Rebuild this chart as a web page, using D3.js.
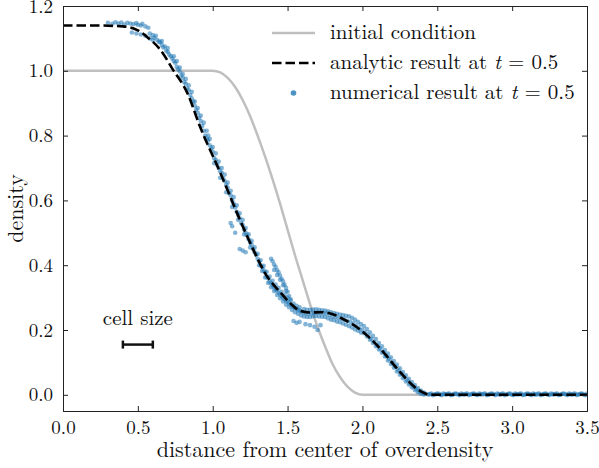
<!DOCTYPE html>
<html>
<head>
<meta charset="utf-8">
<script src="https://cdn.jsdelivr.net/npm/d3@7"></script>
<style>
  body { margin: 0; background: #fff; }
</style>
</head>
<body>
<svg id="chart" width="599" height="468"></svg>
<script>
// initial condition (gray)
const initX = [0, 1.0, 1.05, 1.1, 1.15, 1.2, 1.25, 1.3, 1.35, 1.4, 1.45, 1.5, 1.55, 1.6, 1.65, 1.7, 1.75, 1.8, 1.85, 1.9, 1.95, 2.0, 3.5];
const initY = [1, 1, 0.995, 0.978, 0.95, 0.91, 0.86, 0.8, 0.735, 0.665, 0.59, 0.51, 0.43, 0.355, 0.28, 0.21, 0.15, 0.095, 0.055, 0.025, 0.007, 0, 0];

// analytic result at t=0.5 (dashed)
const anaX = [0, 0.2, 0.4, 0.5, 0.56, 0.65, 0.735, 0.83, 0.915, 1.05, 1.18, 1.27, 1.35, 1.45, 1.52, 1.58, 1.65, 1.72, 1.78, 1.87, 1.98, 2.12, 2.25, 2.365, 2.42, 2.46, 2.6, 3.5];
const anaY = [1.14, 1.14, 1.137, 1.125, 1.105, 1.065, 1.003, 0.932, 0.828, 0.686, 0.542, 0.449, 0.375, 0.317, 0.282, 0.26, 0.254, 0.255, 0.252, 0.234, 0.203, 0.142, 0.071, 0.018, 0.004, 0, 0, 0];

// numerical result at t=0.5 (scatter)
const numPts = [
  [0.30,1.148],[0.33,1.145],[0.35,1.150],[0.37,1.146],[0.39,1.149],[0.41,1.143],[0.43,1.148],[0.45,1.146],[0.47,1.144],[0.49,1.147],
  [0.50,1.142],[0.52,1.140],[0.53,1.145],[0.55,1.137],[0.57,1.133],
  [0.46,1.118],[0.49,1.115],[0.52,1.112],[0.55,1.108],[0.58,1.100],[0.60,1.095],
  [0.58,1.115],[0.60,1.110],[0.61,1.102],[0.62,1.108],[0.63,1.095],[0.64,1.090],[0.65,1.088],[0.66,1.080],[0.67,1.072],[0.68,1.075],
  [0.69,1.062],[0.70,1.058],[0.71,1.050],[0.72,1.045],[0.73,1.038],[0.74,1.030],[0.75,1.025],[0.76,1.012],[0.77,1.005],[0.78,0.998],
  [0.79,0.985],[0.80,0.978],[0.81,0.965],[0.82,0.960],[0.83,0.945],[0.84,0.940],[0.85,0.925],[0.86,0.915],[0.87,0.905],[0.88,0.892],
  [0.89,0.880],[0.90,0.870],[0.91,0.855],[0.92,0.845],[0.93,0.830],[0.94,0.815],
  [0.76,1.030],[0.78,1.010],[0.80,0.990],[0.82,0.975],[0.84,0.955],[0.86,0.935],[0.88,0.905],[0.90,0.885],[0.92,0.862],[0.94,0.840],
  [0.96,0.815],[0.97,0.800],[0.70,1.070],[0.66,1.092],[0.74,1.045],
  [0.95,0.800],[0.96,0.790],[0.97,0.785],[0.98,0.770],[0.99,0.760],[1.00,0.750],[1.01,0.730],[1.02,0.725],[1.03,0.710],[1.04,0.700],
  [1.05,0.690],[1.06,0.685],[1.07,0.668],[1.08,0.660],[1.09,0.648],[1.10,0.640],[1.11,0.622],[1.12,0.615],[1.13,0.600],[1.14,0.590],
  [1.15,0.578],[1.16,0.565],[1.17,0.555],[1.18,0.545],[1.19,0.530],[1.20,0.525],[1.21,0.510],[1.22,0.500],[1.23,0.492],[1.24,0.480],
  [1.25,0.470],[1.26,0.462],[1.27,0.450],[1.28,0.440],[1.29,0.432],
  [0.98,0.790],[1.00,0.765],[1.02,0.745],[1.04,0.720],[1.06,0.700],[1.08,0.680],[1.10,0.655],[1.12,0.630],[1.14,0.610],[1.16,0.585],
  [1.18,0.560],[1.20,0.540],[1.22,0.515],[1.24,0.495],[1.26,0.475],[1.28,0.455],
  [1.01,0.715],[1.05,0.670],[1.09,0.625],[1.13,0.580],[1.17,0.540],[1.21,0.495],[1.25,0.455],
  [1.12,0.530],[1.13,0.520],[1.15,0.500],[1.18,0.450],[1.20,0.445],[1.22,0.440],
  [1.30,0.420],[1.31,0.412],[1.32,0.400],[1.33,0.395],[1.34,0.385],[1.35,0.378],[1.36,0.365],[1.37,0.360],[1.38,0.350],[1.39,0.345],
  [1.40,0.338],[1.41,0.332],[1.42,0.325],[1.43,0.322],[1.44,0.315],[1.45,0.310],[1.46,0.305],[1.47,0.300],[1.48,0.295],[1.49,0.290],
  [1.50,0.288],[1.51,0.282],[1.52,0.278],[1.53,0.275],[1.54,0.270],[1.55,0.268],[1.56,0.265],[1.57,0.262],[1.58,0.260],[1.59,0.258],
  [1.30,0.435],[1.32,0.415],[1.34,0.398],[1.36,0.380],[1.38,0.365],[1.40,0.352],[1.42,0.340],[1.44,0.330],[1.46,0.318],[1.48,0.308],
  [1.50,0.300],[1.52,0.292],[1.54,0.282],[1.56,0.275],[1.58,0.270],
  [1.31,0.400],[1.33,0.382],[1.35,0.362],[1.37,0.345],[1.39,0.332],[1.41,0.320],[1.43,0.308],[1.45,0.298],[1.47,0.288],[1.49,0.278],
  [1.51,0.270],[1.53,0.262],[1.55,0.255],[1.57,0.250],[1.59,0.245],
  [1.39,0.420],[1.40,0.412],[1.41,0.402],[1.42,0.395],[1.43,0.385],[1.44,0.378],[1.45,0.368],[1.46,0.358],[1.47,0.350],[1.48,0.340],
  [1.49,0.330],[1.50,0.318],[1.51,0.305],[1.52,0.295],[1.41,0.385],[1.43,0.370],[1.45,0.355],[1.47,0.338],[1.49,0.320],
  [1.60,0.255],[1.62,0.252],[1.64,0.250],[1.66,0.252],[1.68,0.253],[1.70,0.254],[1.72,0.253],[1.74,0.252],[1.76,0.250],[1.78,0.246],
  [1.80,0.242],[1.82,0.240],[1.84,0.237],[1.86,0.235],[1.88,0.232],[1.90,0.228],[1.92,0.225],[1.94,0.220],[1.96,0.212],[1.98,0.205],
  [1.61,0.265],[1.63,0.262],[1.65,0.262],[1.67,0.263],[1.69,0.264],[1.71,0.262],[1.73,0.261],[1.75,0.260],[1.77,0.258],[1.79,0.255],
  [1.81,0.252],[1.83,0.250],[1.85,0.248],[1.87,0.246],[1.89,0.244],[1.91,0.242],[1.93,0.238],[1.95,0.232],[1.97,0.225],[1.99,0.218],
  [1.61,0.242],[1.63,0.240],[1.65,0.240],[1.67,0.242],[1.69,0.243],[1.71,0.242],[1.73,0.241],[1.75,0.240],[1.77,0.236],[1.79,0.232],
  [1.81,0.230],[1.83,0.226],[1.85,0.224],[1.87,0.220],[1.89,0.216],[1.91,0.212],[1.93,0.208],[1.95,0.202],[1.97,0.198],[1.99,0.192],
  [1.54,0.228],[1.56,0.222],[1.58,0.225],[1.62,0.218],[1.65,0.215],[1.68,0.210],[1.70,0.200],[1.72,0.215],
  [2.00,0.200],[2.02,0.192],[2.04,0.183],[2.06,0.172],[2.08,0.163],[2.10,0.152],[2.12,0.142],[2.14,0.132],[2.16,0.120],[2.18,0.110],
  [2.20,0.098],[2.22,0.087],[2.24,0.076],[2.26,0.065],[2.28,0.055],[2.30,0.045],[2.32,0.035],[2.34,0.026],[2.36,0.018],[2.38,0.011],
  [2.40,0.006],[2.42,0.003],[2.44,0.001],
  [2.01,0.212],[2.03,0.203],[2.05,0.193],[2.07,0.182],[2.09,0.172],[2.11,0.160],[2.13,0.150],[2.15,0.138],[2.17,0.127],[2.19,0.116],
  [2.21,0.104],[2.23,0.093],[2.25,0.082],[2.27,0.070],[2.29,0.060],[2.31,0.049],[2.33,0.039],[2.35,0.030],[2.37,0.021],[2.39,0.013],
  [2.41,0.007],
  [2.01,0.190],[2.03,0.180],[2.05,0.170],[2.07,0.160],[2.09,0.150],[2.11,0.140],[2.13,0.130],[2.15,0.118],[2.17,0.106],[2.19,0.095],
  [2.21,0.084],[2.23,0.072],[2.25,0.062],[2.27,0.051],[2.29,0.041],[2.31,0.032],[2.33,0.023],[2.35,0.015],[2.37,0.008],[2.39,0.003],
  [2.41,0.001],
  [2.46,0.004],[2.48,0.001],[2.50,0.004],[2.52,0.000],[2.54,0.004],[2.56,0.001],[2.58,0.004],[2.60,0.000],[2.62,0.004],[2.64,0.001],
  [2.66,0.004],[2.68,0.000],[2.70,0.004],[2.72,0.001],[2.74,0.004],[2.76,0.000],[2.78,0.004],[2.80,0.001],[2.82,0.004],[2.84,0.000],
  [2.86,0.004],[2.88,0.001],[2.90,0.004],[2.92,0.000],[2.94,0.004],[2.96,0.001],[2.98,0.004],[3.00,0.000],[3.02,0.004],[3.04,0.001],
  [3.06,0.004],[3.08,0.000],[3.10,0.004],[3.12,0.001],[3.14,0.004],[3.16,0.000],[3.18,0.004],[3.20,0.001],[3.22,0.004],[3.24,0.000],
  [3.26,0.004],[3.28,0.001],[3.30,0.004],[3.32,0.000],[3.34,0.004],[3.36,0.001],[3.38,0.004],[3.40,0.000],[3.42,0.004],[3.44,0.001],
  [3.46,0.004],[3.48,0.000],[3.50,0.004],
  [2.45,0.002],[2.47,-0.001],[2.49,0.002],[2.51,0.003],[2.53,-0.001],[2.55,0.002],[2.57,0.003],[2.59,-0.001],[2.61,0.002],[2.63,0.003],
  [2.65,-0.001],[2.67,0.002],[2.69,0.003],[2.71,-0.001],[2.73,0.002],[2.75,0.003],[2.77,-0.001],[2.79,0.002],[2.81,0.003],[2.83,-0.001],
  [2.85,0.002],[2.87,0.003],[2.89,-0.001],[2.91,0.002],[2.93,0.003],[2.95,-0.001],[2.97,0.002],[2.99,0.003],[3.01,-0.001],[3.03,0.002],
  [3.05,0.003],[3.07,-0.001],[3.09,0.002],[3.11,0.003],[3.13,-0.001],[3.15,0.002],[3.17,0.003],[3.19,-0.001],[3.21,0.002],[3.23,0.003],
  [3.25,-0.001],[3.27,0.002],[3.29,0.003],[3.31,-0.001],[3.33,0.002],[3.35,0.003],[3.37,-0.001],[3.39,0.002],[3.41,0.003],[3.43,-0.001],
  [3.45,0.002],[3.47,0.003],[3.49,-0.001]
];

// "cell size" marker
const cellX = [0.4, 0.6];
const cellY = 0.155;

const xTicks = [0, 0.5, 1.0, 1.5, 2.0, 2.5, 3.0, 3.5];
const yTicks = [0, 0.2, 0.4, 0.6, 0.8, 1.0, 1.2];

const FONT = '"Latin Modern Roman"';

const margin = {top: 6, right: 12, bottom: 57, left: 63};
const W = 599, H = 468;
const w = W - margin.left - margin.right;
const h = H - margin.top - margin.bottom;

const svg = d3.select('#chart');
const g = svg.append('g').attr('transform', `translate(${margin.left},${margin.top})`);

const x = d3.scaleLinear().domain([0, 3.5]).range([0, w]);
const y = d3.scaleLinear().domain([-0.05, 1.2]).range([h, 0]);

g.append('clipPath').attr('id', 'clip')
  .append('rect').attr('width', w).attr('height', h);

const plot = g.append('g').attr('clip-path', 'url(#clip)');

const line = d3.line().x(d => x(d[0])).y(d => y(d[1])).curve(d3.curveMonotoneX);

plot.append('path')
  .datum(initX.map((v, i) => [v, initY[i]]))
  .attr('d', line)
  .attr('fill', 'none')
  .attr('stroke', '#bfbfbf')
  .attr('stroke-width', 2.5);

plot.append('g').selectAll('circle')
  .data(numPts)
  .enter().append('circle')
  .attr('cx', d => x(d[0]))
  .attr('cy', d => y(d[1]))
  .attr('r', 2.3)
  .attr('fill', '#1f77b4')
  .attr('fill-opacity', 0.55);

plot.append('path')
  .datum(anaX.map((v, i) => [v, anaY[i]]))
  .attr('d', line)
  .attr('fill', 'none')
  .attr('stroke', '#000')
  .attr('stroke-width', 2.6)
  .attr('stroke-dasharray', '9.5,4');

// axes, ticks pointing inward on all four sides
const tickLen = 5;
const xb = d3.axisBottom(x).tickValues(xTicks).tickSize(-tickLen).tickPadding(10).tickFormat(d3.format('.1f'));
const xt = d3.axisTop(x).tickValues(xTicks).tickSize(-tickLen).tickFormat('');
const yl = d3.axisLeft(y).tickValues(yTicks).tickSize(-tickLen).tickPadding(10).tickFormat(d3.format('.1f'));
const yr = d3.axisRight(y).tickValues(yTicks).tickSize(-tickLen).tickFormat('');

function styleAxis(sel) {
  sel.attr('font-size', 19);
  sel.select('.domain').attr('stroke', '#222').attr('stroke-width', 1);
  sel.selectAll('.tick line').attr('stroke', '#222').attr('stroke-width', 1);
  sel.selectAll('.tick text').style('font-family', FONT).attr('fill', '#111');
}

g.append('g').attr('transform', `translate(0,${h})`).call(xb).call(styleAxis);
g.append('g').call(xt).call(styleAxis);
g.append('g').call(yl).call(styleAxis);
g.append('g').attr('transform', `translate(${w},0)`).call(yr).call(styleAxis);

function txt(sel, size) {
  return sel.style('font-family', FONT).attr('font-size', size).attr('fill', '#111');
}

// axis labels
svg.append('text')
  .attr('x', margin.left + w / 2).attr('y', 457)
  .attr('text-anchor', 'middle')
  .call(txt, 22)
  .text('distance from center of overdensity');

svg.append('text')
  .attr('transform', `translate(23,${margin.top + h / 2}) rotate(-90)`)
  .attr('text-anchor', 'middle')
  .call(txt, 22)
  .text('density');

// cell size marker
const cell = g.append('g');
cell.append('line')
  .attr('x1', x(cellX[0])).attr('x2', x(cellX[1]))
  .attr('y1', y(cellY)).attr('y2', y(cellY))
  .attr('stroke', '#111').attr('stroke-width', 2.5);
cellX.forEach(v => {
  cell.append('line')
    .attr('x1', x(v)).attr('x2', x(v))
    .attr('y1', y(cellY) - 4).attr('y2', y(cellY) + 4)
    .attr('stroke', '#111').attr('stroke-width', 2.5);
});
cell.append('text')
  .attr('x', x((cellX[0] + cellX[1]) / 2)).attr('y', y(cellY) - 20)
  .attr('text-anchor', 'middle')
  .call(txt, 21)
  .text('cell size');

// legend
const leg = svg.append('g');
const lx0 = 272, lx1 = 315, tx = 330;
leg.append('line').attr('x1', lx0).attr('x2', lx1).attr('y1', 33).attr('y2', 33)
  .attr('stroke', '#bfbfbf').attr('stroke-width', 2.5);
leg.append('text').attr('x', tx).attr('y', 39).call(txt, 21).text('initial condition');

leg.append('line').attr('x1', lx0).attr('x2', lx1).attr('y1', 63).attr('y2', 63)
  .attr('stroke', '#000').attr('stroke-width', 2.6).attr('stroke-dasharray', '9.5,4');
const t2 = leg.append('text').attr('x', tx).attr('y', 69).call(txt, 21);
t2.append('tspan').text('analytic result at ');
t2.append('tspan').attr('font-style', 'italic').text('t');
t2.append('tspan').text(' = 0.5');

leg.append('circle').attr('cx', (lx0 + lx1) / 2).attr('cy', 93).attr('r', 2.8)
  .attr('fill', '#1f77b4').attr('fill-opacity', 0.8);
const t3 = leg.append('text').attr('x', tx).attr('y', 99).call(txt, 21);
t3.append('tspan').text('numerical result at ');
t3.append('tspan').attr('font-style', 'italic').text('t');
t3.append('tspan').text(' = 0.5');
</script>
</body>
</html>
